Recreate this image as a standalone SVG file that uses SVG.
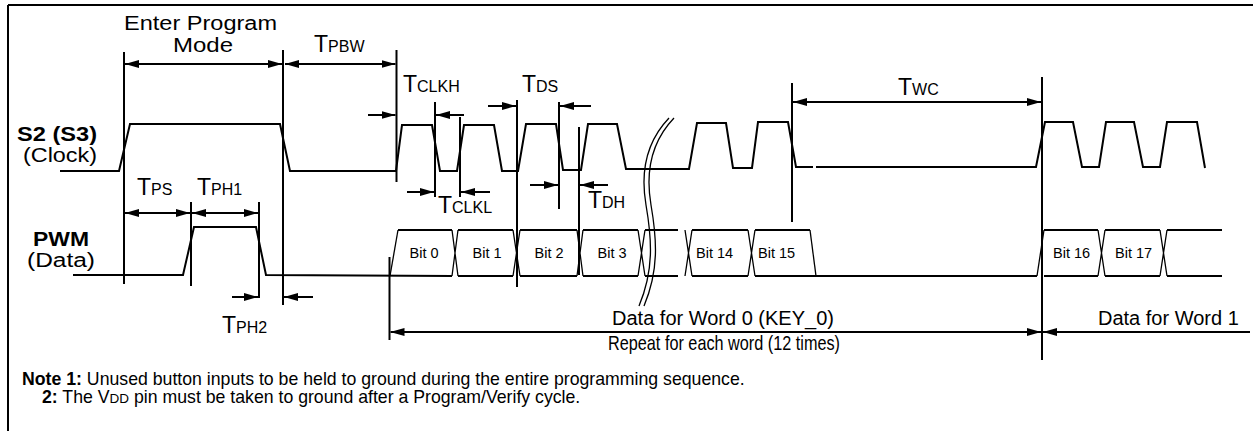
<svg xmlns="http://www.w3.org/2000/svg" width="1253" height="431" viewBox="0 0 1253 431">
<style>
text{font-family:"Liberation Sans",Arial,sans-serif;fill:#000}
.lbl{font-size:20px}
.big{font-size:19.5px}
.T{font-size:23px}
.sub{font-size:16px}
.bold{font-weight:bold}
.bit{font-size:14.5px}
.note{font-size:17.7px}
.w{fill:none;stroke:#000;stroke-width:2;stroke-linejoin:miter}
.x{fill:none;stroke:#000;stroke-width:1.3}
.v{stroke:#000;stroke-width:2}
.d{stroke:#000;stroke-width:2;fill:none}
.d2{stroke:#000;stroke-width:2;fill:none;marker-start:url(#ah);marker-end:url(#ah)}
.d1{stroke:#000;stroke-width:2;fill:none;marker-end:url(#ah)}
.brk{fill:none;stroke:#000;stroke-width:1.3}
</style>
<defs>
<marker id="ah" viewBox="0 0 14 8" refX="14" refY="4" markerWidth="14" markerHeight="8" markerUnits="userSpaceOnUse" orient="auto-start-reverse">
<path d="M0,0 L14,4 L0,8 z" fill="#000"/>
</marker>
</defs>
<rect width="1253" height="431" fill="#fff"/>
<g id="frame">
<line x1="8" y1="5" x2="1253" y2="5" class="v"/>
<line x1="8" y1="5" x2="8" y2="431" class="v"/>
</g>
<g id="clock-label">
<text class="big bold" x="17" y="141" textLength="80" lengthAdjust="spacingAndGlyphs">S2 (S3)</text>
<text class="big" x="23" y="162" textLength="74" lengthAdjust="spacingAndGlyphs">(Clock)</text>
</g>
<g id="data-label">
<text class="big bold" x="33" y="246" textLength="56" lengthAdjust="spacingAndGlyphs">PWM</text>
<text class="big" x="27" y="267" textLength="68" lengthAdjust="spacingAndGlyphs">(Data)</text>
</g>
<g id="clock-signal">
<polyline class="w" points="60,171 119,171 130,124 280,124 290,171 396,171 402,125 432,125 440,171 457,171 464,125 494,125 502,171 518,171 526,124 556,124 563,170 581,170 588,124 617,124 626,169 689,169 697,123 726,123 733,168 752,168 758,122 788,122 796,167 813,167"/>
<polyline class="w" points="816,167 1036,167 1045,122 1073,122 1082,167 1099,167 1106,122 1134,122 1143,167 1160,167 1167,122 1197,122 1205,168"/>
</g>
<g id="data-signal">
<polyline class="w" points="73,275 183,275 194,227 256,227 266,275 452,276"/>
<line class="x" x1="390" y1="276" x2="398" y2="230"/>
<line class="w" x1="398" y1="230" x2="452" y2="230"/>
<path class="x" d="M452,230 L458,276 M458,230 L452,276"/>
<path class="w" d="M458,230 H513 M458,276 H513"/>
<path class="x" d="M513,230 L520,276 M520,230 L513,276"/>
<path class="w" d="M520,230 H577 M520,276 H577"/>
<path class="x" d="M577,230 L583,276 M583,230 L577,276"/>
<path class="w" d="M583,230 H638 M583,276 H638"/>
<path class="x" d="M638,230 L645,276 M645,230 L638,276"/>
<path class="w" d="M645,230 H678 M645,276 H678"/>
<path class="x" d="M685,230 L692,276 M692,230 L685,276"/>
<path class="w" d="M692,230 H748 M692,276 H748"/>
<path class="x" d="M748,230 L755,276 M755,230 L748,276"/>
<path class="w" d="M755,230 H810 M755,276 H1037"/>
<line class="x" x1="810" y1="230" x2="816" y2="276"/>
<line class="x" x1="1037" y1="276" x2="1044" y2="230"/>
<path class="w" d="M1044,230 H1098 M1044,276 H1098"/>
<path class="x" d="M1098,230 L1105,276 M1105,230 L1098,276"/>
<path class="w" d="M1105,230 H1160 M1105,276 H1160"/>
<path class="x" d="M1160,230 L1167,276 M1167,230 L1160,276"/>
<path class="w" d="M1167,230 H1222 M1167,276 H1222"/>
<text class="bit" x="424" y="258" text-anchor="middle">Bit 0</text>
<text class="bit" x="487" y="258" text-anchor="middle">Bit 1</text>
<text class="bit" x="549" y="258" text-anchor="middle">Bit 2</text>
<text class="bit" x="612" y="258" text-anchor="middle">Bit 3</text>
<text class="bit" x="696" y="258">Bit 14</text>
<text class="bit" x="758" y="258">Bit 15</text>
<text class="bit" x="1053" y="258">Bit 16</text>
<text class="bit" x="1115" y="258">Bit 17</text>
</g>
<g id="break-mark">
<path class="brk" d="M669,118 C648,140 640,170 646,205 C652,240 654,270 639,306"/>
<path class="brk" d="M674,118 C653,140 645,170 651,205 C657,240 659,270 644,306"/>
</g>
<g id="connectors">
<line class="v" x1="124" y1="52" x2="124" y2="284"/>
<line class="v" x1="283" y1="50" x2="283" y2="305"/>
<line class="v" x1="396.5" y1="50" x2="396.5" y2="182"/>
<line class="v" x1="435" y1="102" x2="435" y2="197"/>
<line class="v" x1="460" y1="117" x2="460" y2="197"/>
<line class="v" x1="517" y1="100" x2="517" y2="287"/>
<line class="v" x1="559" y1="102" x2="559" y2="209"/>
<line class="v" x1="579" y1="127" x2="579" y2="275"/>
<line class="v" x1="792" y1="83" x2="792" y2="222"/>
<line class="v" x1="1042" y1="77" x2="1042" y2="360"/>
<line class="v" x1="191" y1="202" x2="191" y2="286"/>
<line class="v" x1="259" y1="202" x2="259" y2="298"/>
<line class="v" x1="389.5" y1="257" x2="389.5" y2="340"/>
<line class="d2" x1="125" y1="64" x2="282" y2="64"/>
<line class="d2" x1="285" y1="64" x2="395.5" y2="64"/>
<line class="d1" x1="368" y1="115" x2="395.5" y2="115"/>
<line class="d1" x1="464" y1="115" x2="436" y2="115"/>
<line class="d1" x1="407" y1="192" x2="434" y2="192"/>
<line class="d1" x1="490" y1="192" x2="461" y2="192"/>
<line class="d1" x1="488" y1="106" x2="516" y2="106"/>
<line class="d1" x1="591" y1="106" x2="560" y2="106"/>
<line class="d1" x1="530" y1="185" x2="558" y2="185"/>
<line class="d1" x1="608" y1="185" x2="580" y2="185"/>
<line class="d2" x1="125" y1="213" x2="190" y2="213"/>
<line class="d2" x1="192" y1="213" x2="258" y2="213"/>
<line class="d1" x1="232" y1="297" x2="258" y2="297"/>
<line class="d1" x1="313" y1="297" x2="284" y2="297"/>
<line class="d2" x1="793" y1="102" x2="1041" y2="102"/>
<line class="d2" x1="390.5" y1="332" x2="1041" y2="332"/>
<line class="d" x1="1250" y1="332" x2="1043" y2="332" style="marker-end:url(#ah)"/>
</g>
<g id="timing-labels">
<text class="big" x="124" y="30" textLength="153" lengthAdjust="spacingAndGlyphs">Enter Program</text>
<text class="big" x="173" y="52" textLength="60" lengthAdjust="spacingAndGlyphs">Mode</text>
<text class="T" x="314" y="52">T<tspan class="sub">PBW</tspan></text>
<text class="T" x="403" y="92">T<tspan class="sub">CLKH</tspan></text>
<text class="T" x="522" y="92">T<tspan class="sub">DS</tspan></text>
<text class="T" x="898" y="95">T<tspan class="sub">WC</tspan></text>
<text class="T" x="137" y="195">T<tspan class="sub">PS</tspan></text>
<text class="T" x="197" y="195">T<tspan class="sub">PH1</tspan></text>
<text class="T" x="438" y="213">T<tspan class="sub">CLKL</tspan></text>
<text class="T" x="588" y="208">T<tspan class="sub">DH</tspan></text>
<text class="T" x="222" y="333">T<tspan class="sub">PH2</tspan></text>
<text class="lbl" x="723" y="325" text-anchor="middle">Data for Word 0 (KEY_0)</text>
<text x="608" y="350" font-size="21" textLength="232" lengthAdjust="spacingAndGlyphs">Repeat for each word (12 times)</text>
<text class="lbl" x="1098" y="325">Data for Word 1</text>
</g>
<g id="notes">
<text class="note" x="22" y="385"><tspan class="bold">Note 1:</tspan> Unused button inputs to be held to ground during the entire programming sequence.</text>
<text class="note" x="42" y="403"><tspan class="bold">2:</tspan> The V<tspan font-size="13.5">DD</tspan> pin must be taken to ground after a Program/Verify cycle.</text>
</g>
</svg>
